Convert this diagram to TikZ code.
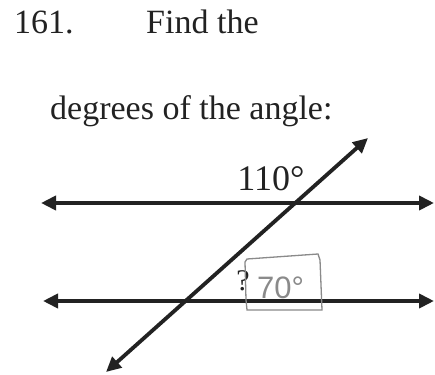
\documentclass[tikz,border=0pt]{standalone}
\usepackage{fontspec}
\setmainfont{Liberation Serif}
\newfontfamily\handfont{Liberation Sans}
\usetikzlibrary{arrows.meta}
\definecolor{ink}{HTML}{222222}
\definecolor{pencil}{HTML}{8A8A8A}
\tikzset{
  heading/.style={anchor=base west, inner sep=0pt, text=ink, font=\fontsize{34}{40}\selectfont},
  rayline/.style={draw=ink, line width=3.8pt, {Triangle[length=15pt,width=14pt]}-{Triangle[length=15pt,width=14pt]}},
  anglelabel/.style={anchor=base, inner sep=0pt, text=ink, font=\fontsize{36}{40}\selectfont},
  handlabel/.style={anchor=base west, inner sep=0pt, text=pencil, font=\handfont\fontsize{31}{34}\selectfont},
  pencilbox/.style={draw=pencil, line width=1.3pt}
}
\begin{document}
\begin{tikzpicture}[x=1pt,y=-1pt]
\useasboundingbox[fill=white] (0,0) rectangle (435,374);
% heading
\node[heading] (num) at (14,34) {161.};
\node[heading] (find) at (146,34) {Find the};
\node[heading] (deg) at (50,120) {degrees of the angle:};
% lines
\coordinate (t1) at (41,203);
\coordinate (t2) at (434,203);
\coordinate (b1) at (43,301);
\coordinate (b2) at (434,301);
\coordinate (s1) at (106,372);
\coordinate (s2) at (368,138);
\draw[rayline] (t1) -- (t2);
\draw[rayline] (b1) -- (b2);
\draw[rayline] (s1) -- (s2);
% labels
\node[anglelabel] (ang) at (271,190) {110°};
\node[anchor=base, inner sep=0pt, text=ink, font=\fontsize{30}{34}\selectfont] (q) at (243,290) {?};
% pencil box and answer
\draw[pencilbox] (245,262) -- (247,259) -- (318,254) -- (320,260) -- (322,310) -- (247,310) -- (246,300) -- cycle;
\node[handlabel] (ans) at (257,298) {70°};
\end{tikzpicture}
\end{document}
